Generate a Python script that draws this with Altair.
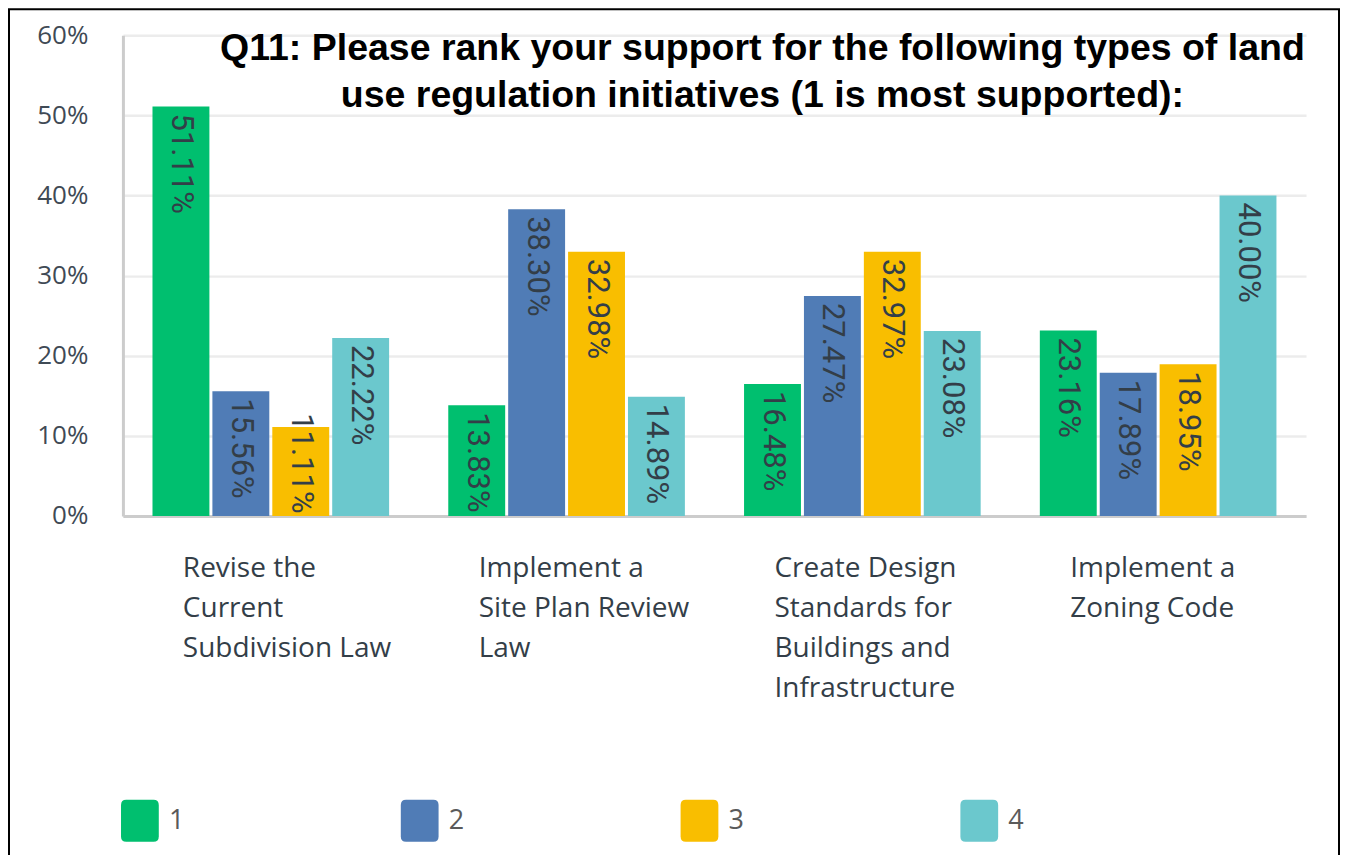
import altair as alt
import pandas as pd

categories = [
    "Revise the|Current|Subdivision Law",
    "Implement a|Site Plan Review|Law",
    "Create Design|Standards for|Buildings and|Infrastructure",
    "Implement a|Zoning Code",
]
ranks = ["1", "2", "3", "4"]
rank1 = [51.11, 13.83, 16.48, 23.16]
rank2 = [15.56, 38.30, 27.47, 17.89]
rank3 = [11.11, 32.98, 32.97, 18.95]
rank4 = [22.22, 14.89, 23.08, 40.00]
colors = ["#00BF6F", "#507CB6", "#F9BE00", "#6BC8CD"]
title_lines = [
    "Q11: Please rank your support for the following types of land",
    "use regulation initiatives (1 is most supported):",
]
y_ticks = [0, 0.1, 0.2, 0.3, 0.4, 0.5, 0.6]

rows = []
for i, c in enumerate(categories):
    for r, series in zip(ranks, [rank1, rank2, rank3, rank4]):
        rows.append({"category": c, "rank": r, "value": series[i] / 100})
df = pd.DataFrame(rows)

W, H = 1184, 481
TEXT = "#333e48"
rounded = "M-0.65,-1 L0.65,-1 Q0.9,-1 0.9,-0.75 L0.9,0.75 Q0.9,1 0.65,1 L-0.65,1 Q-0.9,1 -0.9,0.75 L-0.9,-0.75 Q-0.9,-1 -0.65,-1 Z"

x_enc = alt.X(
    "category:N",
    sort=categories,
    scale=alt.Scale(paddingInner=0.2, paddingOuter=0.1),
    axis=alt.Axis(
        title=None,
        labelExpr="split(datum.label, '|')",
        labelAlign="left",
        labelBaseline="top",
        labelOffset=-88,
        labelPadding=39,
        labelLineHeight=40,
        labelFontSize=28,
        labelFont="Open Sans",
        labelColor=TEXT,
        labelAngle=0,
        labelLimit=400,
        ticks=False,
        domainColor="#cccccc",
        domainWidth=3,
    ),
)
xo_enc = alt.XOffset("rank:N", sort=ranks, scale=alt.Scale(paddingInner=0.05))

base = alt.Chart(df).encode(x=x_enc, xOffset=xo_enc)

bars = base.mark_bar().encode(
    y=alt.Y(
        "value:Q",
        scale=alt.Scale(domain=[0, 0.6]),
        axis=alt.Axis(
            title=None,
            values=y_ticks,
            format=".0%",
            ticks=False,
            domainColor="#cccccc",
            domainWidth=3,
            gridColor="#ececec",
            gridWidth=2.5,
            labelFont="Open Sans",
            labelFontSize=26,
            labelColor="#3f4a55",
            labelPadding=35,
        ),
    ),
    color=alt.Color(
        "rank:N",
        scale=alt.Scale(domain=ranks, range=colors),
        legend=alt.Legend(
            title=None,
            orient="none",
            legendX=-4,
            legendY=765,
            direction="horizontal",
            columns=4,
            symbolType=rounded,
            symbolSize=1764,
            symbolStrokeWidth=0,
            symbolOpacity=1,
            labelFontSize=27,
            labelFont="Open Sans",
            labelColor="#5a5a5a",
            labelOffset=8,
            columnPadding=214,
        ),
    ),
)

labels = base.transform_calculate(
    pos="max(datum.value, 0.137)"
).mark_text(
    angle=90,
    align="left",
    baseline="middle",
    dx=7,
    font="Roboto",
    fontSize=31,
    color=TEXT,
).encode(
    y=alt.Y("pos:Q"),
    text=alt.Text("value:Q", format=".2%"),
)

border = alt.Chart(pd.DataFrame({"a": [0]})).mark_rect(
    fillOpacity=0, stroke="black", strokeWidth=2
).encode(
    x=alt.value(-114), x2=alt.value(1217), y=alt.value(-26), y2=alt.value(840)
)

title = alt.Chart(pd.DataFrame({"a": [0]})).mark_text(
    text=title_lines,
    font="Liberation Sans",
    fontSize=37.5,
    fontWeight="bold",
    color="black",
    align="center",
    baseline="alphabetic",
    lineHeight=47,
).encode(x=alt.value(640), y=alt.value(25))

chart = alt.layer(border, bars, labels, title).properties(
    width=W,
    height=H,
    padding=0,
).configure_view(stroke=None)

chart.save("out.html", embed_options={"renderer": "svg", "actions": False})
